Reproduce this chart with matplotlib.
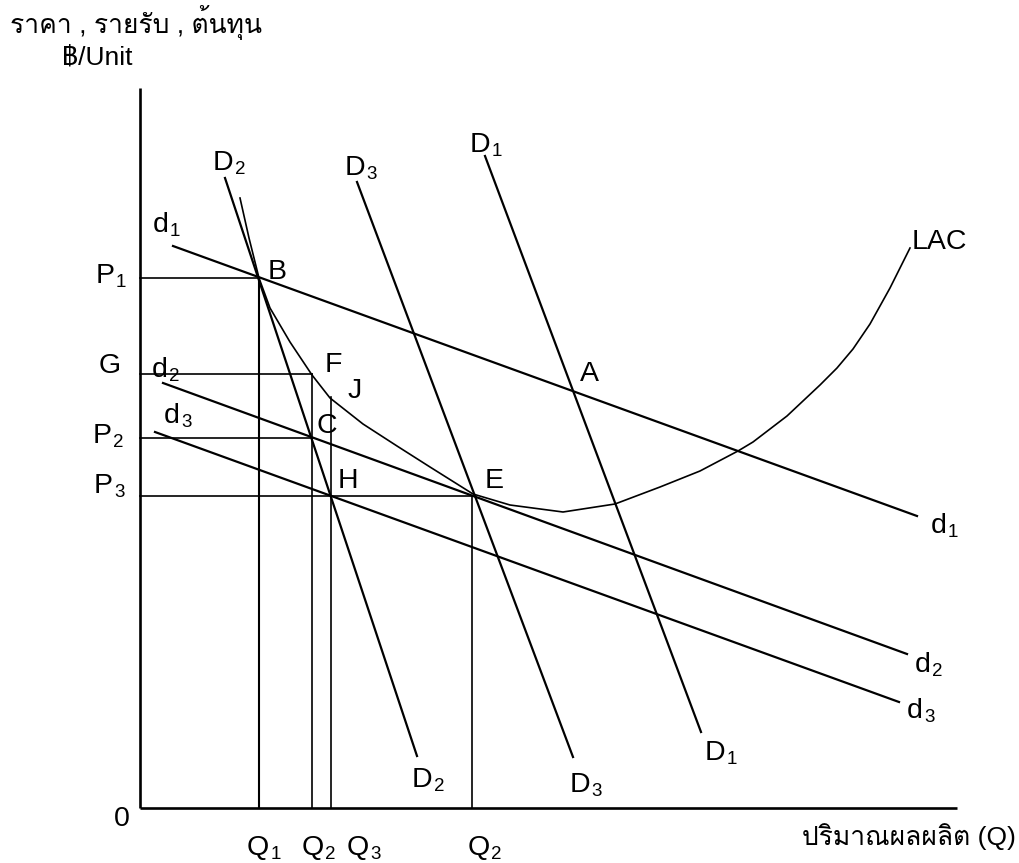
import matplotlib
matplotlib.use("Agg")
import matplotlib.pyplot as plt
from matplotlib import font_manager
from matplotlib.ft2font import FT2Font


def find_thai_family():
    # pick the first installed font that has Thai glyphs
    for f in font_manager.fontManager.ttflist:
        try:
            if 0x0E23 in FT2Font(f.fname).get_charmap():
                return f.name
        except Exception:
            pass
    return None


thai = find_thai_family()
families = ['Liberation Sans']
if thai:
    families.append(thai)
families.append('DejaVu Sans')
plt.rcParams['font.family'] = families

# axes extent (quantity, price)
x_axis_end = 817
y_axis_top = 720

# price levels and quantities
P1, G, P2, P3 = 530, 434, 370, 312
Q1, Q2, Q3, Q2e = 119, 172, 191, 332
J_top = 411

# demand lines: (x0, y0, x1, y1)
d1_line = [33, 562, 777, 292]
d2_line = [23, 425, 767, 154]
d3_line = [15, 376, 759, 106]
D1_line = [345, 652, 561, 76]
D2_line = [85, 630, 277, 52]
D3_line = [217, 626, 433, 51]

# long-run average cost curve
lac_q = [100, 109, 119, 130, 150, 172, 190, 223, 257, 290, 333, 370, 423,
         475, 520, 560, 598, 613, 647, 680, 697, 713, 730, 750, 770]
lac_p = [610, 570, 530, 500, 466, 433, 410, 384, 362, 341, 314, 303, 296,
         304, 321, 337, 357, 366, 392, 423, 440, 459, 484, 520, 560]

fig = plt.figure(figsize=(10.2, 8.63), dpi=100)
ax = fig.add_axes([0, 0, 1, 1])
ax.set_xlim(-140, 880)
ax.set_ylim(-55, 808)
ax.axis('off')

k = 'black'
# axes
ax.plot([0, 0], [0, y_axis_top], color=k, lw=1.9, solid_capstyle='butt')
ax.plot([0, x_axis_end], [0, 0], color=k, lw=1.9, solid_capstyle='butt')

# guide lines
gw = 1.2
ax.plot([0, Q1], [P1, P1], color=k, lw=gw)
ax.plot([Q1, Q1], [0, P1], color=k, lw=1.5)
ax.plot([0, Q2], [G, G], color=k, lw=gw)
ax.plot([Q2, Q2], [0, G], color=k, lw=gw)
ax.plot([0, Q2], [P2, P2], color=k, lw=gw)
ax.plot([Q3, Q3], [0, J_top], color=k, lw=gw)
ax.plot([0, Q2e], [P3, P3], color=k, lw=gw)
ax.plot([Q2e, Q2e], [0, P3], color=k, lw=gw)

# demand curves
for ln in [d1_line, d2_line, d3_line, D1_line, D2_line, D3_line]:
    ax.plot([ln[0], ln[2]], [ln[1], ln[3]], color=k, lw=1.6)

ax.plot(lac_q, lac_p, color=k, lw=1.2)

fs = 20.5


def put_label(x, y, main, sub=None):
    t = ax.text(x, y, main, fontsize=fs, ha='left', va='baseline')
    if sub:
        ax.annotate(sub, xy=(1, 0), xycoords=t, xytext=(0.8, 1.5),
                    textcoords='offset points', fontsize=13.5,
                    ha='left', va='baseline')


labels = [
    (-44, 525, 'P', '1'), (-41, 435, 'G', None), (-47, 365, 'P', '2'), (-46, 315, 'P', '3'),
    (13, 576, 'd', '1'), (12, 431, 'd', '2'), (24, 385, 'd', '3'),
    (128, 529, 'B', None), (185, 436, 'F', None), (208, 410, 'J', None), (177, 375, 'C', None),
    (198, 320, 'H', None), (345, 320, 'E', None), (440, 427, 'A', None), (772, 559, 'LAC', None),
    (73, 638, 'D', '2'), (205, 633, 'D', '3'), (330, 656, 'D', '1'),
    (272, 21, 'D', '2'), (430, 16, 'D', '3'), (565, 48, 'D', '1'),
    (791, 275, 'd', '1'), (775, 136, 'd', '2'), (767, 90, 'd', '3'),
    (-26, -18, '0', None),
    (107, -47, 'Q', '1'), (162, -47, 'Q', '2'), (207, -47, 'Q', '3'), (328, -47, 'Q', '2'),
]
for x, y, main, sub in labels:
    put_label(x, y, main, sub)

ax.text(-130, 775, 'ราคา , รายรับ , ต้นทุน', fontsize=19, ha='left', va='baseline')
ax.text(-78, 743, '฿/Unit', fontsize=19, ha='left', va='baseline')
ax.text(662, -37, 'ปริมาณผลผลิต (Q)', fontsize=19, ha='left', va='baseline')

fig.savefig('out.png', dpi=100)
